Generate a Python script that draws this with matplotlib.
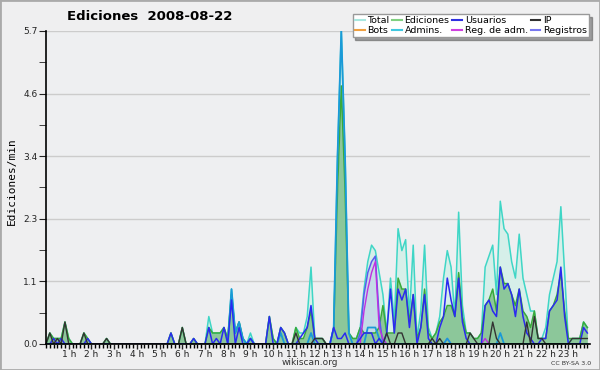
import matplotlib
matplotlib.use("Agg")
import matplotlib.pyplot as plt
from matplotlib.lines import Line2D
import numpy as np

# edits per minute, 10-minute buckets (index -> value), zero elsewhere
n_steps = 144
total = {1: 0.2, 2: 0.1, 3: 0.1, 4: 0.1, 5: 0.4, 6: 0.1, 10: 0.2, 11: 0.1, 16: 0.1,
         33: 0.2, 36: 0.3, 39: 0.1, 43: 0.5, 44: 0.2, 45: 0.2, 46: 0.2, 47: 0.3, 48: 0.1,
         49: 1.0, 50: 0.2, 51: 0.4, 52: 0.1, 54: 0.2, 59: 0.5, 60: 0.1, 62: 0.3, 63: 0.2,
         66: 0.3, 67: 0.2, 68: 0.2, 69: 0.5, 70: 1.4, 71: 0.1, 72: 0.1, 73: 0.1,
         76: 0.3, 77: 3.4, 78: 5.7, 79: 3.4, 80: 0.2, 81: 0.1, 82: 0.1, 83: 0.3,
         84: 1.0, 85: 1.5, 86: 1.8, 87: 1.7, 88: 1.3, 89: 0.9, 90: 0.2, 91: 1.2, 92: 0.4,
         93: 2.1, 94: 1.7, 95: 1.9, 96: 0.5, 97: 1.8, 98: 0.1, 99: 0.6, 100: 1.8, 101: 0.3,
         102: 0.1, 103: 0.2, 104: 0.5, 105: 1.2, 106: 1.7, 107: 1.4, 108: 0.5, 109: 2.4,
         110: 0.7, 111: 0.2, 112: 0.2, 113: 0.1, 114: 0.1, 115: 0.2, 116: 1.4, 117: 1.6,
         118: 1.8, 119: 0.9, 120: 2.6, 121: 2.1, 122: 2.0, 123: 1.5, 124: 1.2, 125: 2.0,
         126: 1.2, 127: 0.9, 128: 0.6, 129: 0.6, 130: 0.1, 131: 0.1, 132: 0.3, 133: 0.9,
         134: 1.2, 135: 1.5, 136: 2.5, 137: 1.3, 139: 0.1, 140: 0.1, 141: 0.1, 142: 0.4,
         143: 0.3}
ediciones = {1: 0.2, 2: 0.1, 3: 0.1, 4: 0.1, 5: 0.4, 6: 0.1, 10: 0.2, 11: 0.1, 16: 0.1,
             33: 0.2, 36: 0.3, 39: 0.1, 43: 0.3, 44: 0.2, 45: 0.2, 46: 0.2, 47: 0.3, 48: 0.1,
             49: 0.9, 50: 0.2, 51: 0.4, 52: 0.1, 54: 0.1, 59: 0.5, 60: 0.1, 62: 0.3, 63: 0.2,
             66: 0.3, 67: 0.1, 68: 0.1, 69: 0.3, 70: 0.6, 71: 0.1, 72: 0.1, 73: 0.1,
             76: 0.3, 77: 2.8, 78: 4.7, 79: 2.8, 80: 0.2, 81: 0.1, 82: 0.1, 83: 0.3,
             84: 0.2, 85: 0.2, 86: 0.2, 87: 0.2, 88: 0.3, 89: 0.7, 90: 0.2, 91: 0.2, 92: 0.2,
             93: 1.2, 94: 1.0, 95: 1.0, 96: 0.4, 97: 0.9, 98: 0.1, 99: 0.3, 100: 1.0, 101: 0.2,
             102: 0.1, 103: 0.2, 104: 0.4, 105: 0.5, 106: 0.7, 107: 0.7, 108: 0.5, 109: 1.3,
             110: 0.5, 111: 0.2, 112: 0.2, 113: 0.1, 114: 0.1, 115: 0.2, 116: 0.7, 117: 0.8,
             118: 1.0, 119: 0.6, 120: 1.4, 121: 1.1, 122: 1.1, 123: 0.9, 124: 0.7, 125: 1.0,
             126: 0.6, 127: 0.5, 128: 0.3, 129: 0.6, 130: 0.1, 131: 0.1, 132: 0.1, 133: 0.6,
             134: 0.7, 135: 0.9, 136: 1.3, 137: 0.6, 138: 0.1, 139: 0.1, 140: 0.1, 141: 0.1,
             142: 0.4, 143: 0.3}
usuarios = {2: 0.1, 4: 0.1, 11: 0.1, 33: 0.2, 39: 0.1, 43: 0.3, 45: 0.1, 47: 0.3, 49: 0.8,
            51: 0.3, 54: 0.1, 59: 0.5, 62: 0.3, 63: 0.2, 67: 0.1, 68: 0.2, 69: 0.3, 70: 0.7,
            71: 0.1, 76: 0.3, 77: 0.1, 78: 0.1, 79: 0.2, 83: 0.1, 84: 0.2, 85: 0.2, 86: 0.2,
            88: 0.1, 90: 0.2, 91: 1.0, 92: 0.2, 93: 1.0, 94: 0.8, 95: 1.0, 96: 0.3, 97: 0.9,
            99: 0.3, 100: 0.9, 101: 0.1, 104: 0.3, 105: 0.5, 106: 1.2, 107: 0.8, 108: 0.5,
            109: 1.2, 110: 0.4, 111: 0.1, 116: 0.7, 117: 0.8, 118: 0.6, 119: 0.5, 120: 1.4,
            121: 1.0, 122: 1.1, 123: 0.9, 124: 0.5, 125: 1.0, 126: 0.5, 127: 0.2, 128: 0.1,
            131: 0.1, 132: 0.1, 133: 0.6, 134: 0.7, 135: 0.8, 136: 1.4, 137: 0.5,
            142: 0.3, 143: 0.2}
ip = {1: 0.2, 3: 0.1, 5: 0.4, 10: 0.2, 16: 0.1, 36: 0.3, 66: 0.2, 71: 0.1, 72: 0.1, 73: 0.1,
      90: 0.2, 93: 0.2, 94: 0.2, 102: 0.1, 104: 0.1, 112: 0.2, 113: 0.1, 118: 0.4, 119: 0.1,
      127: 0.4, 129: 0.5, 130: 0.1, 131: 0.1, 139: 0.1, 140: 0.1, 141: 0.1, 142: 0.1, 143: 0.1}
admins = {49: 1.0, 50: 0.2, 51: 0.4, 52: 0.1, 54: 0.1, 62: 0.2, 70: 0.2, 76: 0.3, 77: 3.4,
          78: 5.7, 79: 3.4, 80: 0.2, 85: 0.3, 86: 0.3, 87: 0.3, 88: 0.1, 106: 0.1, 120: 0.2}
reg_adm = {84: 0.6, 85: 1.0, 86: 1.3, 87: 1.5, 88: 0.3, 89: 0.1, 106: 0.1, 116: 0.1}
registros = {83: 0.2, 84: 0.9, 85: 1.3, 86: 1.5, 87: 1.6, 88: 0.5}

hour_labels = ["%d h" % h for h in range(1, 24)]
y_ticks = [0.0, 1.14, 2.28, 3.42, 4.56, 5.7]


def series(d):
    v = np.zeros(n_steps)
    for k, val in d.items():
        v[k] = val
    return v


t = np.arange(n_steps) / 6.0

fig = plt.figure(figsize=(6, 3.7), dpi=100)
fig.patch.set_facecolor('#efeff0')
ax = fig.add_axes([0.0767, 0.0703, 0.906, 0.846])
ax.set_facecolor('#eeeff1')

tot = series(total)
ed = series(ediciones)
reg = series(registros)
ax.fill_between(t, tot, color='#d6efe9', lw=0)
ax.fill_between(t, reg, color='#c4dbe6', lw=0)
ax.fill_between(t, ed, color='#8cc79a', lw=0)
ax.plot(t, tot, color='#3fd6c6', lw=1.1)
ax.plot(t, ed, color='#3aaa3a', lw=1.1)
ax.plot(t, reg, color='#5a5af0', lw=1.1)
ax.plot(t, series(reg_adm), color='#c030e0', lw=1.0)
ax.plot(t, series(admins), color='#1a9ad8', lw=1.3)
ax.plot(t, series(usuarios), color='#2a2af0', lw=1.1)
ax.plot(t, series(ip), color='#333333', lw=1.0)

ax.set_xlim(0, 143 / 6.0 + 0.1)
ax.set_ylim(0, 5.7)
ax.set_xticks(range(1, 24))
ax.set_xticklabels(hour_labels)
ax.set_xticks(np.arange(0, 24, 1 / 6.0), minor=True)
ax.set_yticks(y_ticks)
ax.set_yticklabels(["%.1f" % v for v in y_ticks])
ax.set_yticks([0.57, 1.71, 2.85, 3.99, 5.13], minor=True)
ax.tick_params(axis='x', which='major', length=3.5, width=1, labelsize=6.5, pad=0.5,
               colors='#222222')
ax.tick_params(axis='x', which='minor', length=3, width=1)
ax.tick_params(axis='y', which='both', length=5, labelsize=6.5, pad=1, colors='#222222')
for s in ['top', 'right']:
    ax.spines[s].set_visible(False)
for s in ['left', 'bottom']:
    ax.spines[s].set_color('black')
    ax.spines[s].set_linewidth(1.2)
ax.grid(axis='y', color='#cccccc', lw=1)
ax.set_axisbelow(True)

fig.text(0.25, 0.955, "Ediciones  2008-08-22", ha='center', va='center',
         fontsize=9.5, fontweight='bold')
fig.text(0.02, 0.51, "Ediciones/min", rotation=90, ha='center', va='center',
         fontsize=8, family='DejaVu Sans Mono')
fig.text(0.517, 0.02, "wikiscan.org", ha='center', va='center', fontsize=6.5, color='#333333')
fig.text(0.985, 0.018, "CC BY-SA 3.0", ha='right', va='center', fontsize=4.5, color='#333333')

handles = [
    Line2D([], [], color='#a8e8e0', label='Total'),
    Line2D([], [], color='#f0a040', label='Bots'),
    Line2D([], [], color='#80d080', label='Ediciones'),
    Line2D([], [], color='#40c8e0', label='Admins.'),
    Line2D([], [], color='#3030e0', label='Usuarios'),
    Line2D([], [], color='#d040e0', label='Reg. de adm.'),
    Line2D([], [], color='#303030', label='IP'),
    Line2D([], [], color='#7878f0', label='Registros'),
]
leg = fig.legend(handles=handles, ncol=4, loc='upper right', bbox_to_anchor=(0.99, 0.975),
                 fontsize=6.8, frameon=True, fancybox=False, shadow=True,
                 handlelength=1.0, handletextpad=0.3, columnspacing=0.3,
                 labelspacing=0.05, borderpad=0.25)
leg.get_frame().set_edgecolor('#999999')
leg.get_frame().set_facecolor('white')

fig.add_artist(plt.Rectangle((0, 0), 1, 1, transform=fig.transFigure, fill=False,
                             edgecolor='#aaaaaa', lw=2))
fig.savefig('out.png', dpi=100, facecolor=fig.get_facecolor())
